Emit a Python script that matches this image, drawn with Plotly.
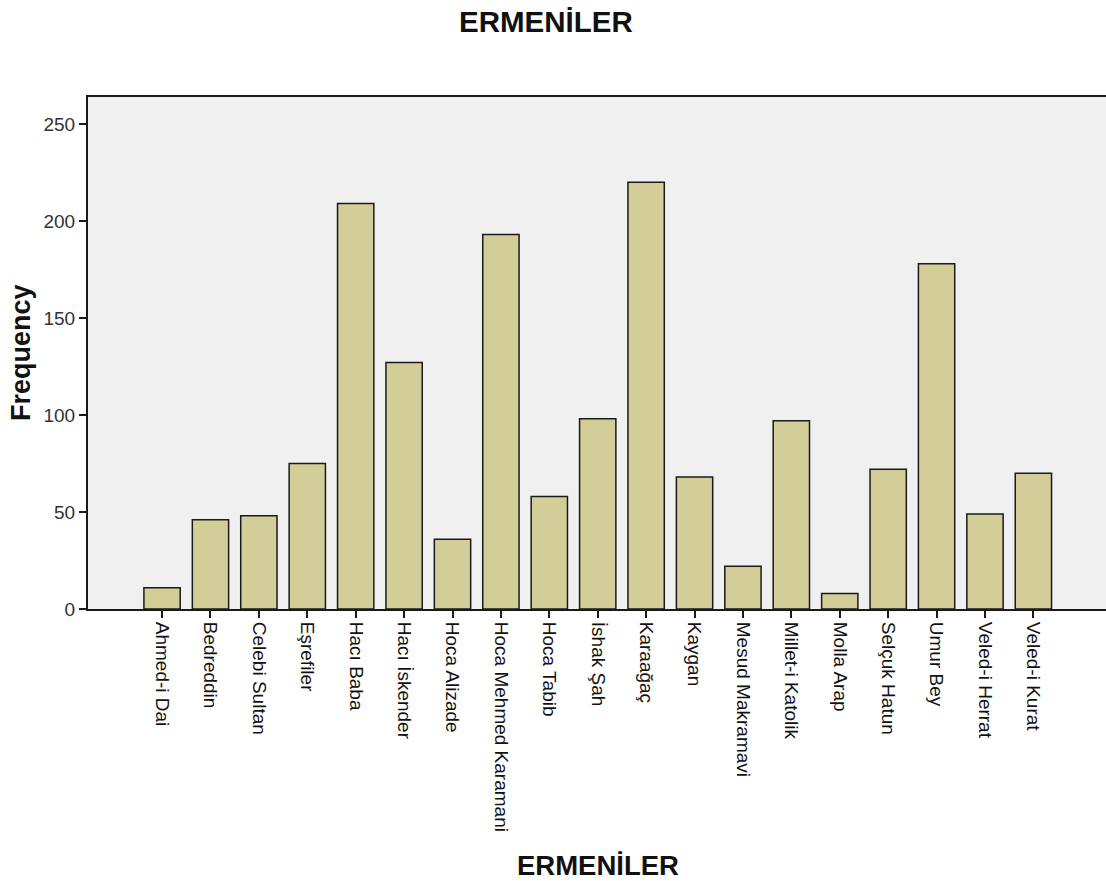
import plotly.graph_objects as go

categories = ["Ahmed-i Dai", "Bedreddin", "Celebi Sultan", "Eşrefiler", "Hacı Baba",
              "Hacı İskender", "Hoca Alizade", "Hoca Mehmed Karamani", "Hoca Tabib",
              "İshak Şah", "Karaağaç", "Kaygan", "Mesud Makramavi", "Millet-i Katolik",
              "Molla Arap", "Selçuk Hatun", "Umur Bey", "Veled-i Herrat", "Veled-i Kurat"]
frequency = [11, 46, 48, 75, 209, 127, 36, 193, 58, 98, 220, 68, 22, 97, 8, 72, 178, 49, 70]
y_ticks = [0, 50, 100, 150, 200, 250]

FONT = "Arial, Liberation Sans, sans-serif"

W, H = 1106, 881
L, T, B, R = 88, 97, 272, 0
PW = W - L - R
PH = H - T - B


def px(page_x):
    return (page_x - L) / PW


def py(page_y):
    return (H - B - page_y) / PH


fig = go.Figure(go.Bar(
    x=categories, y=frequency,
    marker=dict(color="#D3CE97", line=dict(color="#1a1a1a", width=1.5)),
    width=0.75,
))

fig.update_layout(
    width=W, height=H,
    margin=dict(l=L, r=R, t=T, b=B),
    paper_bgcolor="white", plot_bgcolor="#F0F0F0",
    showlegend=False,
    font=dict(family=FONT, color="#111111"),
)
fig.add_annotation(text="<b>ERMENİLER</b>", xref="paper", yref="paper",
                   x=px(546), y=py(21), xanchor="center", yanchor="middle",
                   showarrow=False,
                   font=dict(size=29.5, family=FONT, color="#111111"))
fig.add_annotation(text="<b>ERMENİLER</b>", xref="paper", yref="paper",
                   x=px(598), y=py(865), xanchor="center", yanchor="middle",
                   showarrow=False,
                   font=dict(size=27.5, family=FONT, color="#111111"))
fig.add_annotation(text="<b>Frequency</b>", xref="paper", yref="paper",
                   x=px(21), y=py(353), xanchor="center", yanchor="middle",
                   textangle=-90, showarrow=False,
                   font=dict(size=27, family=FONT, color="#111111"))

fig.update_xaxes(
    type="category", range=[-1.53, 19.5],
    showline=True, linecolor="#1a1a1a", linewidth=2, mirror=True,
    ticks="outside", ticklen=7, tickwidth=2, tickcolor="#1a1a1a",
    tickangle=90, tickfont=dict(size=19, family=FONT, color="#111111"),
    showgrid=False, zeroline=False,
)
fig.update_yaxes(
    range=[0, 263.9], tickvals=y_ticks,
    showline=True, linecolor="#1a1a1a", linewidth=2,
    ticks="outside", ticklen=7, tickwidth=2, tickcolor="#1a1a1a",
    tickfont=dict(size=19, family=FONT, color="#333333"),
    showgrid=False, zeroline=False,
)

fig.write_html("out.html", config={"displayModeBar": False},
               post_script="document.body.style.margin='0';")
